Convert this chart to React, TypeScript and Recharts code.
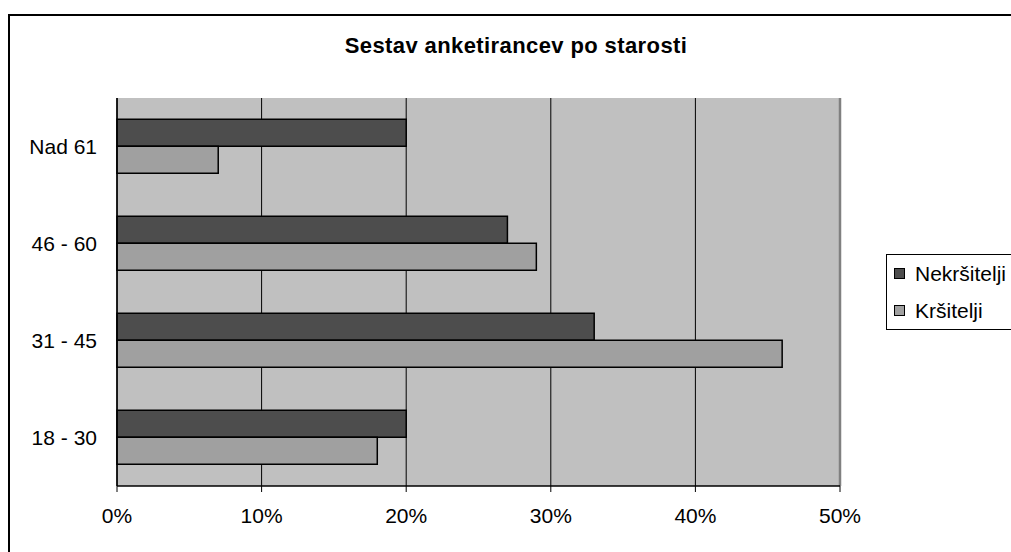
import React from 'react';
import {
  BarChart,
  Bar,
  XAxis,
  YAxis,
  CartesianGrid,
  ReferenceLine,
  Legend,
} from 'recharts';

// Age groups, top to bottom
const categories = ['Nad 61', '46 - 60', '31 - 45', '18 - 30'];
// Share of respondents (%) per age group
const nekrsitelji = [20, 27, 33, 20];
const krsitelji = [7, 29, 46, 18];
const seriesNames = ['Nekršitelji', 'Kršitelji'];
const xTicks = [0, 10, 20, 30, 40, 50];

const data = categories.map((name, i) => ({
  name,
  [seriesNames[0]]: nekrsitelji[i],
  [seriesNames[1]]: krsitelji[i],
}));

const FONT = '"Liberation Sans", Arial, sans-serif';

const LegendBox = (props: any) => {
  const items = [...(props.payload || [])].sort(
    (a: any, b: any) => seriesNames.indexOf(a.value) - seriesNames.indexOf(b.value)
  );
  return (
    <div
      style={{
        width: 150,
        height: 76,
        border: '1.5px solid #000',
        background: '#fff',
        boxSizing: 'border-box',
        fontFamily: FONT,
        fontSize: 21,
        color: '#000',
      }}
    >
      {items.map((it: any) => (
        <div
          key={it.value}
          style={{ display: 'flex', alignItems: 'center', height: 37, paddingLeft: 7 }}
        >
          <span
            style={{
              display: 'inline-block',
              width: 11,
              height: 11,
              background: it.color,
              border: '1px solid #000',
              boxSizing: 'border-box',
              marginRight: 10,
            }}
          />
          <span>{it.value}</span>
        </div>
      ))}
    </div>
  );
};

export default function App() {
  return (
    <div
      style={{
        position: 'fixed',
        left: 0,
        top: 0,
        width: 1011,
        height: 552,
        overflow: 'hidden',
        background: '#fff',
      }}
    >
      <div
        style={{
          position: 'absolute',
          left: 8,
          top: 14,
          width: 1030,
          height: 560,
          border: '2px solid #000',
          boxSizing: 'border-box',
        }}
      />
      <div
        style={{
          position: 'absolute',
          left: 516,
          top: 33,
          transform: 'translateX(-50%)',
          whiteSpace: 'nowrap',
          fontFamily: FONT,
          fontWeight: 'bold',
          fontSize: 22,
          letterSpacing: 0.4,
          color: '#000',
        }}
      >
        Sestav anketirancev po starosti
      </div>
      <div style={{ position: 'absolute', left: 8, top: 14 }}>
        <BarChart
          width={1040}
          height={530}
          data={data}
          layout="vertical"
          margin={{ top: 84, right: 208, bottom: 18, left: 9 }}
          barCategoryGap="22%"
          barGap={0}
          style={{ fontFamily: FONT }}
        >
          <CartesianGrid
            horizontal={false}
            stroke="#000"
            strokeWidth={1}
            fill="#C0C0C0"
            fillOpacity={1}
          />
          <YAxis
            yAxisId="edge"
            type="number"
            domain={[0, 4]}
            ticks={[0, 1, 2, 3, 4]}
            width={0}
            tick={false}
            axisLine={false}
            tickLine={{ stroke: '#000', strokeWidth: 1 }}
            tickSize={6}
          />
          <YAxis
            type="category"
            dataKey="name"
            width={100}
            tickLine={false}
            axisLine={{ stroke: '#000', strokeWidth: 1.5 }}
            tickMargin={14}
            tick={{ fill: '#000', fontSize: 21, fontFamily: FONT }}
          />
          <XAxis
            type="number"
            domain={[0, 50]}
            ticks={xTicks}
            tickFormatter={(v: number) => `${v}%`}
            height={40}
            tickSize={6}
            tickMargin={16}
            axisLine={{ stroke: '#000', strokeWidth: 1.5 }}
            tickLine={{ stroke: '#000', strokeWidth: 1 }}
            tick={{ fill: '#000', fontSize: 21, fontFamily: FONT }}
          />
          <ReferenceLine yAxisId="edge" y={4} stroke="#808080" strokeWidth={2} />
          <ReferenceLine x={50} stroke="#808080" strokeWidth={2.5} />
          <Legend
            layout="vertical"
            align="center"
            verticalAlign="middle"
            content={<LegendBox />}
            wrapperStyle={{ left: 878, top: 240, width: 150 }}
          />
          <Bar
            dataKey={seriesNames[0]}
            fill="#4D4D4D"
            stroke="#000"
            strokeWidth={1.5}
            isAnimationActive={false}
          />
          <Bar
            dataKey={seriesNames[1]}
            fill="#A0A0A0"
            stroke="#000"
            strokeWidth={1.5}
            isAnimationActive={false}
          />
        </BarChart>
      </div>
    </div>
  );
}
